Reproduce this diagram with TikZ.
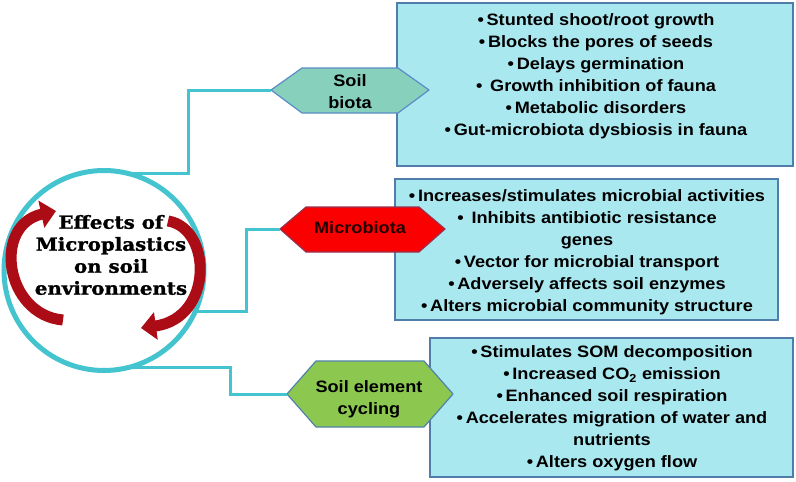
\documentclass[tikz,border=0pt]{standalone}
\usepackage{fontspec}
\setmainfont{Liberation Sans}[FakeStretch=1.1]
\newfontfamily\titlefont{DejaVu Serif}[FakeStretch=1.1, BoldFeatures={FakeBold=1.3}]
\usetikzlibrary{arrows.meta}
\definecolor{cyanline}{RGB}{68,196,206}
\definecolor{boxfill}{RGB}{170,232,240}
\definecolor{boxline}{RGB}{80,125,170}
\definecolor{biotafill}{RGB}{134,208,188}
\definecolor{biotaline}{RGB}{90,140,200}
\definecolor{microfill}{RGB}{250,0,0}
\definecolor{microline}{RGB}{150,50,80}
\definecolor{cyclfill}{RGB}{140,200,80}
\definecolor{cyclline}{RGB}{80,130,170}
\definecolor{arrowred}{RGB}{172,12,22}
\newcommand{\bul}{•\,}
\tikzset{
  infobox/.style={draw=boxline, fill=boxfill, line width=1.5pt, inner sep=0pt, outer sep=0pt},
  boxtext/.style={align=center, inner sep=0pt, font=\bfseries\fontsize{16.5}{22}\selectfont},
  hextext/.style={align=center, inner sep=0pt, font=\bfseries\fontsize{16.5}{22}\selectfont},
  conn/.style={draw=cyanline, line width=3pt},
  hexbiota/.style={fill=biotafill, draw=biotaline, line width=1.2pt, line join=round},
  hexmicro/.style={fill=microfill, draw=microline, line width=1.2pt, line join=round},
  hexcycl/.style={fill=cyclfill, draw=cyclline, line width=1.2pt, line join=round},
  redarrow/.style={draw=arrowred, line width=11pt, -{Triangle[width=27pt,length=15pt]}},
}
\begin{document}
\begin{tikzpicture}[x=1pt,y=-1pt]
\fill[white] (0,0) rectangle (796,482);
\useasboundingbox (0,0) rectangle (796,482);

% boxes
\node[infobox, minimum width=396pt, minimum height=163pt] (box1) at (595,84.5) {};
\node[infobox, minimum width=383pt, minimum height=141pt] (box2) at (586.5,249.5) {};
\node[infobox, minimum width=363pt, minimum height=139pt] (box3) at (611.5,407.5) {};

% hexagons
\draw[hexbiota] (271,90) -- (302,68) -- (398,68) -- (429,90) -- (398,113) -- (302,113) -- cycle;
\draw[hexmicro] (280,229) -- (306,207) -- (419,207) -- (445,229) -- (419,252) -- (306,252) -- cycle;
\draw[hexcycl] (287,394) -- (316,361) -- (424,361) -- (453,394) -- (424,427) -- (316,427) -- cycle;
\coordinate (biotaL) at (271,90);
\coordinate (microL) at (280,229);
\coordinate (cyclL) at (287,394);

\node[hextext] (biota) at (350,92) {Soil\\biota};
\node[hextext, text=black!85!red] (micro) at (360,228) {Microbiota};
\node[hextext] (cycl) at (369,399) {Soil element\\cycling};

% central circle
\node[circle, draw=cyanline, line width=5pt, minimum size=200pt, inner sep=0pt, outer sep=0pt] (circ) at (104,270.5) {};

% connectors
\coordinate (kA) at (188,0);
\coordinate (kB) at (246,0);
\coordinate (kC) at (230,0);
\draw[conn] (circ.75) -- (circ.75 -| kA) |- (biotaL);
\draw[conn] (circ.-24.5) -- (circ.-24.5 -| kB) |- (microL);
\draw[conn] (circ.-77) -- (circ.-77 -| kC) |- (cyclL);

% red cycle arrows
\draw[redarrow] (63,320) .. controls (5,315) and (-8,225) .. (56,211);
\draw[redarrow] (168,221) .. controls (212,228) and (214,318) .. (141,328);

\node[align=center, inner sep=0pt, font=\titlefont\bfseries\fontsize{18}{22}\selectfont] (title) at (111,255)
  {Effects of\\Microplastics\\on soil\\environments};

% box texts
\node[boxtext] (t1) at (596,76) {\bul Stunted shoot/root growth\\
\bul Blocks the pores of seeds\\
\bul Delays germination\\
\bul\ Growth inhibition of fauna\\
\bul Metabolic disorders\\
\bul Gut-microbiota dysbiosis in fauna};
\node[boxtext] (t2) at (587,252) {\bul Increases/stimulates microbial activities\\
\bul\ Inhibits antibiotic resistance\\
genes\\
\bul Vector for microbial transport\\
\bul Adversely affects soil enzymes\\
\bul Alters microbial community structure};
\node[boxtext] (t3) at (612,408.5) {\bul Stimulates SOM decomposition\\
\bul Increased CO\textsubscript{2} emission\\
\bul Enhanced soil respiration\\
\bul Accelerates migration of water and\\
nutrients\\
\bul Alters oxygen flow};
\end{tikzpicture}
\end{document}
